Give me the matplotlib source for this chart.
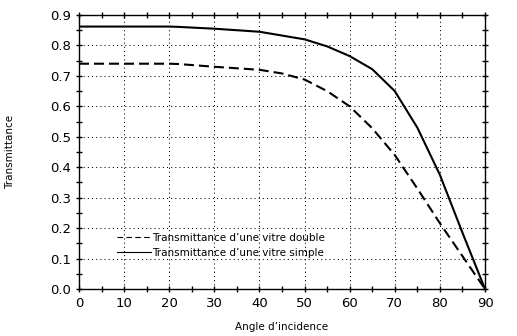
import matplotlib
matplotlib.use("Agg")
import matplotlib.pyplot as plt
from matplotlib.ticker import MultipleLocator
from matplotlib.lines import Line2D

angles_simple = [0, 10, 20, 22, 30, 40, 50, 55, 60, 65, 70, 75, 80, 85, 90]
trans_simple = [0.862, 0.862, 0.862, 0.861, 0.855, 0.845, 0.82, 0.797, 0.765, 0.722, 0.65, 0.53, 0.375, 0.185, 0.0]

angles_double = [0, 10, 20, 22, 30, 40, 45, 50, 55, 60, 65, 70, 75, 80, 85, 90]
trans_double = [0.74, 0.74, 0.74, 0.739, 0.73, 0.72, 0.708, 0.688, 0.65, 0.6, 0.528, 0.44, 0.33, 0.216, 0.108, 0.0]

label_double = "Transmittance d’une vitre double"
label_simple = "Transmittance d’une vitre simple"
xlabel = "Angle d’incidence"
ylabel = "Transmittance"

plt.rcParams['font.family'] = ['DejaVu Sans']

fig = plt.figure(figsize=(5.17, 3.36), dpi=100)
ax = fig.add_axes([79/517, 1-289/336, (485-79)/517, (289-15)/336])

ax.plot(angles_double, trans_double, color='black', lw=1.5, dashes=(4.8, 2.4))
ax.plot(angles_simple, trans_simple, color='black', lw=1.5)

ax.set_xlim(0, 90)
ax.set_ylim(0, 0.9)
ax.xaxis.set_major_locator(MultipleLocator(10))
ax.xaxis.set_minor_locator(MultipleLocator(5))
ax.yaxis.set_major_locator(MultipleLocator(0.1))
ax.yaxis.set_minor_locator(MultipleLocator(0.05))
ax.yaxis.set_major_formatter(matplotlib.ticker.FormatStrFormatter('%.1f'))
ax.tick_params(which='both', direction='inout', top=True, right=True, length=5, width=1, labelsize=9.5, colors='black')
ax.tick_params(axis='x', pad=3)
ax.grid(True, which='major', color='black', linestyle=(0, (1, 3)), lw=0.75)
for s in ax.spines.values():
    s.set_linewidth(1)

ax.set_xlabel(xlabel, fontsize=7.5, labelpad=9)
ax.set_ylabel(ylabel, fontsize=7.5, labelpad=25)

handles = [Line2D([], [], color='black', lw=0.8, dashes=(5, 3)),
           Line2D([], [], color='black', lw=0.8)]
ax.legend(handles, [label_double, label_simple], loc='lower left',
          bbox_to_anchor=(0.08, 0.095), frameon=False, fontsize=7.5,
          handlelength=3.3, handletextpad=0.1, borderpad=0, labelspacing=0.5)

fig.savefig("out.png", dpi=100)
